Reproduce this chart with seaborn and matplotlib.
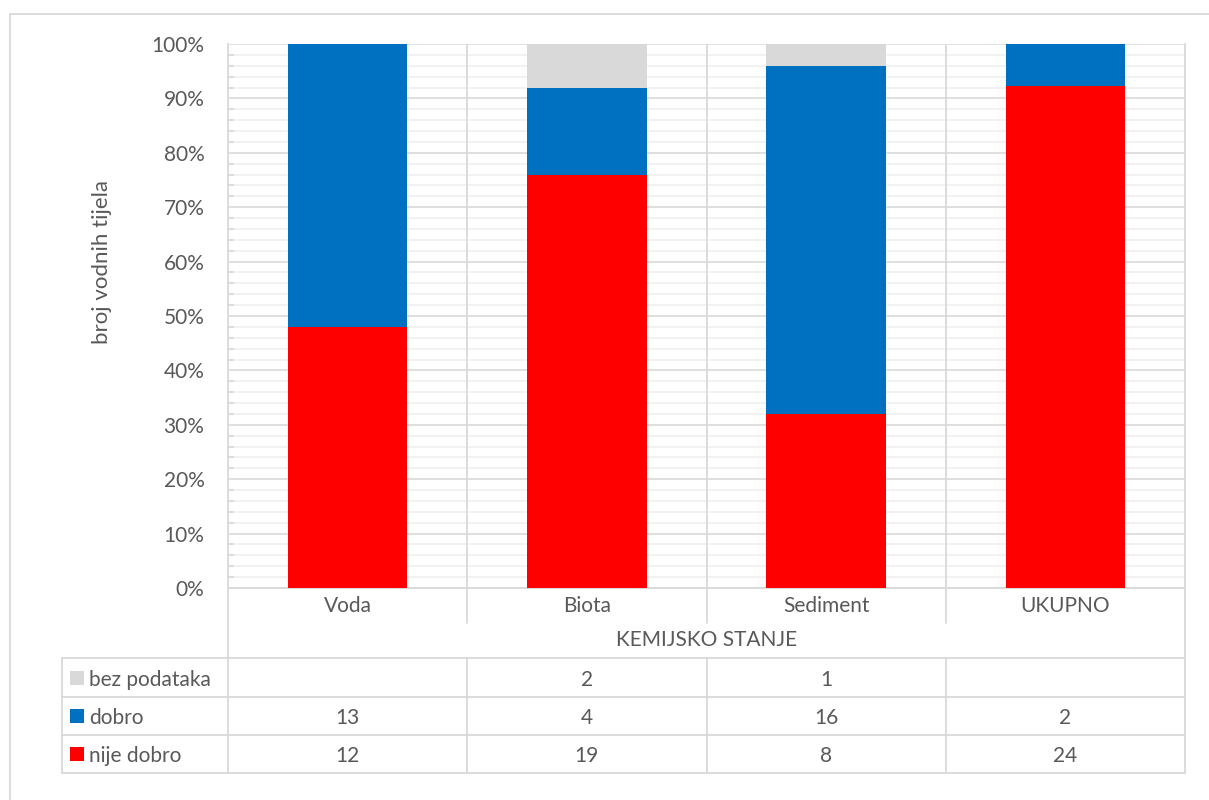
import numpy as np
import pandas as pd
import seaborn as sns
import matplotlib
matplotlib.use("Agg")
import matplotlib.pyplot as plt
import matplotlib.transforms as mtrans
from matplotlib.lines import Line2D
from matplotlib.patches import Rectangle
from matplotlib.ticker import MultipleLocator, PercentFormatter

# ---------------- data ----------------
categories = ["Voda", "Biota", "Sediment", "UKUPNO"]
series_names = ["bez podataka", "dobro", "nije dobro"]
bez_podataka = [None, 2, 1, None]
dobro = [13, 4, 16, 2]
nije_dobro = [12, 19, 8, 24]
series_colors = ["#D9D9D9", "#0070C0", "#FF0000"]
x_axis_title = "KEMIJSKO STANJE"
y_axis_title = "broj vodnih tijela"

# ---------------- style ----------------
sns.set_style("white")
plt.rcParams["font.family"] = ["Lato", "DejaVu Sans"]
TXT = "#595959"
GRID = "#D9D9D9"
MINOR = "#F0F0F0"
FS = 15

W, H = 1209, 800
fig = plt.figure(figsize=(W / 100, H / 100), dpi=100)
fig.patch.set_facecolor("white")

def fx(px):
    return px / W

def fy(py):
    return 1 - py / H

ax = fig.add_axes([fx(228), fy(588), fx(1185) - fx(228), fy(44) - fy(588)])

df = pd.DataFrame({
    "kategorija": categories,
    "bez podataka": pd.Series(bez_podataka, dtype="float").fillna(0).values,
    "dobro": dobro,
    "nije dobro": nije_dobro,
})
total = df[series_names].sum(axis=1)
df["cum_nije"] = df["nije dobro"] / total
df["cum_dobro"] = (df["nije dobro"] + df["dobro"]) / total
df["cum_bez"] = (df["nije dobro"] + df["dobro"] + df["bez podataka"]) / total

# stacked bars by overlaying cumulative totals (top segment first)
for col, c in zip(["cum_bez", "cum_dobro", "cum_nije"], series_colors):
    sns.barplot(data=df, x="kategorija", y=col, color=c, saturation=1,
                width=0.5, linewidth=0, ax=ax, zorder=3)

ax.set_xlim(-0.5, len(categories) - 0.5)
ax.set_ylim(0, 1)
ax.yaxis.set_major_locator(MultipleLocator(0.1))
ax.yaxis.set_minor_locator(MultipleLocator(0.02))
ax.yaxis.set_major_formatter(PercentFormatter(1.0, decimals=0))
ax.set_xlabel("")
ax.set_ylabel("")

ax.yaxis.grid(True, which="minor", color=MINOR, lw=1.2, zorder=0)
ax.yaxis.grid(True, which="major", color=GRID, lw=1.2, zorder=1)
ax.set_axisbelow(True)
for b in np.arange(0.5, len(categories) - 0.5, 1.0):
    ax.axvline(b, color=GRID, lw=1.3, zorder=1)

for s in ["left", "right", "bottom"]:
    ax.spines[s].set_visible(True)
    ax.spines[s].set_color(GRID)
    ax.spines[s].set_linewidth(1.3)
ax.spines["top"].set_visible(False)

ax.tick_params(axis="y", which="major", length=0, pad=17, labelsize=FS, labelcolor=TXT)
ax.tick_params(axis="y", which="minor", direction="in", length=4, width=1.2, color=GRID, left=True)
ax.tick_params(axis="x", length=0, pad=6, labelsize=FS, labelcolor=TXT)

# y axis title
fig.text(fx(102), fy(262), y_axis_title, rotation=90, ha="center", va="center",
         fontsize=FS + 1, color=TXT)

# ---------------- table ----------------
bt = mtrans.blended_transform_factory(ax.transData, fig.transFigure)
ft = fig.transFigure
lw = 1.3

def hline(x0px, x1px, ypx):
    fig.add_artist(Line2D([fx(x0px), fx(x1px)], [fy(ypx), fy(ypx)], transform=ft,
                          color=GRID, lw=lw))

def vline_data(xd, y0px, y1px):
    fig.add_artist(Line2D([xd, xd], [fy(y0px), fy(y1px)], transform=bt,
                          color=GRID, lw=lw, clip_on=False))

def vline_px(xpx, y0px, y1px):
    fig.add_artist(Line2D([fx(xpx), fx(xpx)], [fy(y0px), fy(y1px)], transform=ft,
                          color=GRID, lw=lw))

# verticals
vline_px(228, 588, 773)
vline_px(1185, 588, 773)
vline_px(62, 658, 773)
for b in np.arange(0.5, len(categories) - 0.5, 1.0):
    vline_data(b, 588, 623)
    vline_data(b, 658, 773)

row_bounds = [658, 697, 735, 773]
for yb in row_bounds:
    hline(62, 1185, yb)

fig.text(0.5 * (fx(228) + fx(1185)), fy(640), x_axis_title, ha="center", va="center",
         fontsize=FS, color=TXT)

table_rows = [("bez podataka", bez_podataka), ("dobro", dobro), ("nije dobro", nije_dobro)]
for i, ((name, vals), c) in enumerate(zip(table_rows, series_colors)):
    yc = 0.5 * (row_bounds[i] + row_bounds[i + 1])
    fig.add_artist(Rectangle((fx(70), fy(yc + 7)), fx(14), 14 / H, transform=ft,
                             facecolor=c, edgecolor="none"))
    fig.text(fx(89), fy(yc), name, ha="left", va="center_baseline", fontsize=FS, color=TXT)
    for j, v in enumerate(vals):
        if v is None:
            continue
        t = fig.text(0, fy(yc), str(v), transform=bt, ha="center", va="center_baseline",
                     fontsize=FS, color=TXT)
        t.set_x(j)

# outer chart border (top and left visible)
fig.add_artist(Line2D([fx(10), 1], [fy(14), fy(14)], transform=ft, color=GRID, lw=1.3))
fig.add_artist(Line2D([fx(10), fx(10)], [fy(14), 0], transform=ft, color=GRID, lw=1.3))

fig.savefig("out.png", dpi=100)
